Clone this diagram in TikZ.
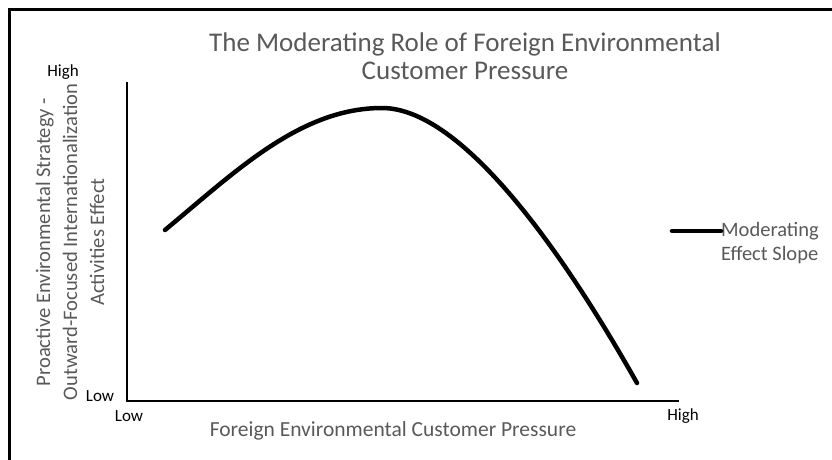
\documentclass[tikz,border=0pt]{standalone}
\usepackage{fontspec}
\setmainfont{Carlito}
\usepackage{tikz}
\usetikzlibrary{positioning, calc}
\usepackage{xcolor}
\definecolor{labelgray}{HTML}{595959}

\begin{document}
\begin{tikzpicture}[
    x=1pt, y=-1pt,
    title/.style={text=labelgray, font=\fontsize{27}{28.5}\selectfont, align=center, inner sep=0pt},
    axistitle/.style={text=labelgray, font=\fontsize{21.5}{27}\selectfont, align=center, inner sep=0pt},
    ytitle/.style={text=labelgray, font=\fontsize{20.6}{27}\selectfont, align=center, inner sep=0pt, rotate=90},
    tick/.style={text=black, font=\fontsize{17}{20}\selectfont, inner sep=0pt},
    legendtext/.style={text=labelgray, font=\fontsize{20.5}{24}\selectfont, align=left, inner sep=0pt, anchor=west},
    axis/.style={draw=black, line width=1.6pt},
    slope/.style={draw=black, line width=4.5pt, line cap=round, line join=round}
]
    \useasboundingbox (0,0) rectangle (832,459);
    % Chart frame
    \clip (0,0) rectangle (832,459);
    \draw[line width=3pt] (9,480) -- (9,9) -- (850,9);

    % Title
    \node[title] (title) at (465,56) {The Moderating Role of Foreign Environmental\\Customer Pressure};

    % Axes
    \coordinate (ytop) at (127,82);
    \coordinate (origin) at (127,401);
    \coordinate (xend) at (679,401);
    \draw[axis] (ytop) -- (origin) -- (xend);

    % Axis ticks
    \node[tick] (yhigh) at (63,72) {High};
    \node[tick] (ylow) at (100,396) {Low};
    \node[tick] (xlow) at (129,416) {Low};
    \node[tick] (xhigh) at (683,416) {High};

    % Axis titles
    \node[axistitle] (xtitle) at (393,431) {Foreign Environmental Customer Pressure};
    \node[ytitle] (yaxis) at (70,242) {Proactive Environmental Strategy -\\Outward-Focused Internationalization\\Activities Effect};

    % Moderating effect curve
    \coordinate (start) at (165,230);
    \coordinate (peak) at (382,108);
    \coordinate (stop) at (637,383);
    \draw[slope] (start) .. controls (235,172) and (300,108) .. (peak)
                         .. controls (470,108) and (580,282) .. (stop);

    % Legend
    \coordinate (legA) at (672,231);
    \node[legendtext] (legend) at (721,243) {Moderating\\Effect Slope};
    \draw[slope] (legA) -- (legA -| legend.west);
\end{tikzpicture}
\end{document}
